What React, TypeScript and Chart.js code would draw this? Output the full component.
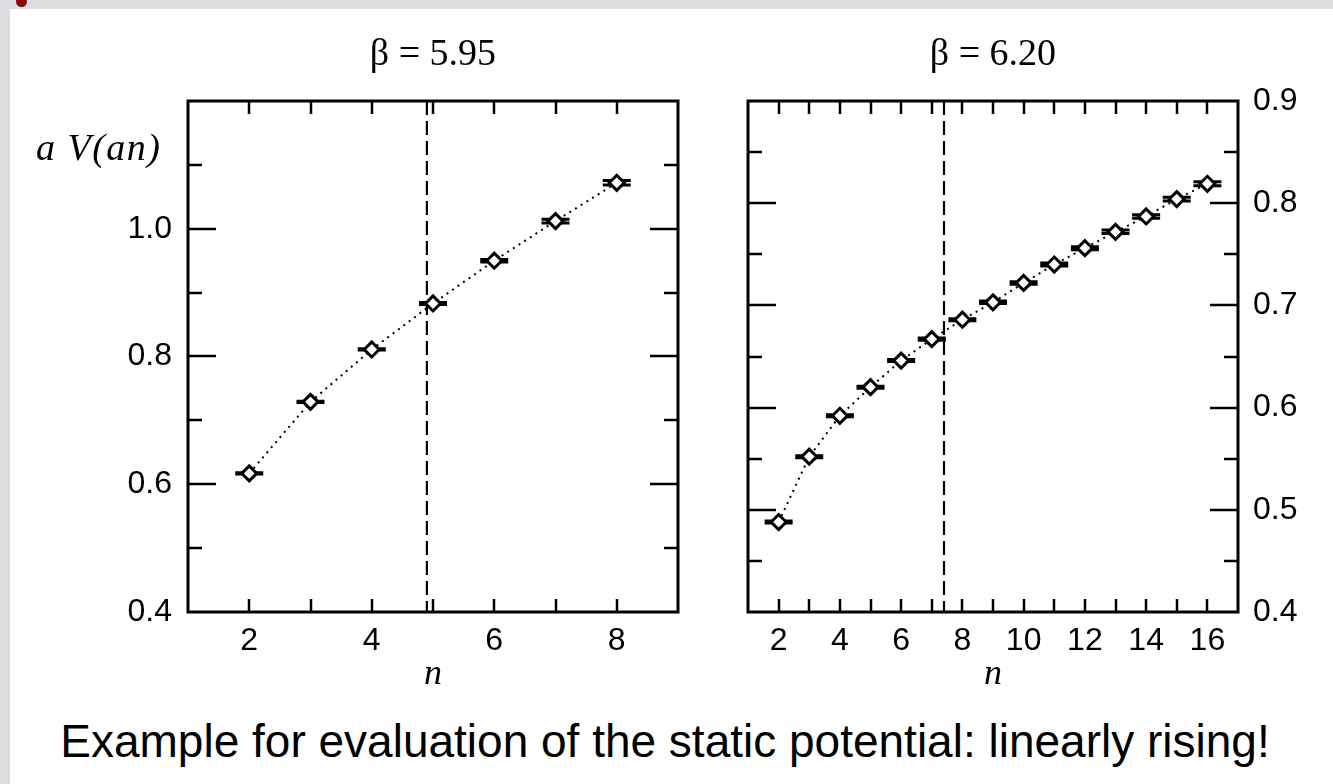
import React, { useEffect, useRef } from "react";
import { Chart, registerables } from "chart.js";
Chart.register(...registerables);

// ---- data ----
const nLeft = [2, 3, 4, 5, 6, 7, 8];
const vLeft = [0.617, 0.729, 0.811, 0.883, 0.95, 1.012, 1.072];
const eLeft = [0.001, 0.001, 0.001, 0.0015, 0.002, 0.003, 0.0035];
const cutLeft = 4.9;

const nRight = [2, 3, 4, 5, 6, 7, 8, 9, 10, 11, 12, 13, 14, 15, 16];
const vRight = [0.488, 0.552, 0.592, 0.62, 0.646, 0.667, 0.686, 0.703, 0.722, 0.74, 0.756, 0.772, 0.787, 0.804, 0.819];
const eRight = [0.001, 0.001, 0.001, 0.001, 0.001, 0.001, 0.001, 0.0012, 0.0012, 0.0014, 0.0015, 0.0017, 0.0018, 0.0019, 0.002];
const cutRight = 7.4;

const titleLeft = "β = 5.95";
const titleRight = "β = 6.20";
const yTitle = "a V(an)";
const xTitle = "n";
const caption = "Example for evaluation of the static potential: linearly rising!";

const SANS = "'Liberation Sans', Arial, Helvetica, sans-serif";
const SERIF = "'Liberation Serif', 'Times New Roman', serif";

function makeFramePlugin(cut: number, errs: number[], isMajor: (v: number) => boolean) {
  return {
    id: "frameTicks",
    beforeDatasetsDraw(chart: any) {
      const { ctx, chartArea: a } = chart;
      const xs = chart.scales.x;
      const ys = chart.scales.y;
      ctx.save();
      ctx.strokeStyle = "#000";
      ctx.lineCap = "butt";
      ctx.lineWidth = 2.5;
      xs.ticks.forEach((t: any) => {
        if (t.value <= xs.min + 1e-9 || t.value >= xs.max - 1e-9) return;
        const px = Math.round(xs.getPixelForValue(t.value));
        ctx.beginPath();
        ctx.moveTo(px, a.bottom);
        ctx.lineTo(px, a.bottom - 13);
        ctx.moveTo(px, a.top);
        ctx.lineTo(px, a.top + 13);
        ctx.stroke();
      });
      ys.ticks.forEach((t: any) => {
        if (t.value <= ys.min + 1e-9 || t.value >= ys.max - 1e-9) return;
        const py = Math.round(ys.getPixelForValue(t.value));
        const len = isMajor(t.value) ? 28 : 14;
        ctx.beginPath();
        ctx.moveTo(a.left, py);
        ctx.lineTo(a.left + len, py);
        ctx.moveTo(a.right, py);
        ctx.lineTo(a.right - len, py);
        ctx.stroke();
      });
      const cx = xs.getPixelForValue(cut);
      ctx.setLineDash([14, 6]);
      ctx.lineWidth = 2.2;
      ctx.beginPath();
      ctx.moveTo(cx, a.top);
      ctx.lineTo(cx, a.bottom);
      ctx.stroke();
      ctx.setLineDash([]);
      ctx.lineWidth = 3;
      const ds = chart.data.datasets[0];
      ds.data.forEach((p: any, i: number) => {
        const px = xs.getPixelForValue(p.x);
        const y1 = ys.getPixelForValue(p.y + errs[i]);
        const y2 = ys.getPixelForValue(p.y - errs[i]);
        ctx.beginPath();
        ctx.moveTo(px - 14, y1);
        ctx.lineTo(px + 14, y1);
        ctx.moveTo(px - 14, y2);
        ctx.lineTo(px + 14, y2);
        ctx.moveTo(px, y1);
        ctx.lineTo(px, y2);
        ctx.stroke();
      });
      ctx.lineWidth = 3;
      ctx.strokeRect(a.left, a.top, a.right - a.left, a.bottom - a.top);
      ctx.restore();
    },
  };
}

function makeConfig(
  ns: number[], vs: number[], es: number[], cut: number,
  xmin: number, xmax: number, ymin: number, ymax: number, ystep: number,
  yPos: "left" | "right", yWidth: number, padding: any,
  isMajor: (v: number) => boolean, isLabeled: (v: number) => boolean
) {
  return {
    type: "line",
    data: {
      datasets: [
        {
          data: ns.map((n, i) => ({ x: n, y: vs[i] })),
          borderColor: "#000",
          borderWidth: 2,
          borderDash: [2, 4.7],
          tension: 0,
          fill: false,
          pointStyle: "rectRot",
          pointRadius: 7.5,
          pointBorderWidth: 3,
          pointBackgroundColor: "#fff",
          pointBorderColor: "#000",
        },
      ],
    },
    options: {
      animation: false,
      responsive: false,
      maintainAspectRatio: false,
      events: [],
      layout: { padding },
      plugins: {
        legend: { display: false },
        tooltip: { enabled: false },
        title: { display: false },
      },
      scales: {
        x: {
          type: "linear",
          position: "bottom",
          min: xmin,
          max: xmax,
          grid: { display: false, drawTicks: false },
          border: { display: false },
          afterFit: (s: any) => { s.height = 88; },
          ticks: {
            stepSize: 1,
            autoSkip: false,
            maxRotation: 0,
            padding: 10,
            color: "#000",
            font: { family: SANS, size: 32, lineHeight: 1.2 },
            callback: (v: any) => (Math.round(Number(v)) % 2 === 0 ? String(Math.round(Number(v))) : ""),
          },
        },
        y: {
          type: "linear",
          position: yPos,
          min: ymin,
          max: ymax,
          grid: { display: false, drawTicks: false },
          border: { display: false },
          afterFit: (s: any) => { s.width = yWidth; },
          ticks: {
            stepSize: ystep,
            autoSkip: false,
            padding: yPos === "left" ? 16 : 15,
            color: "#000",
            font: { family: SANS, size: 32 },
            callback: (v: any) => (isLabeled(Number(v)) ? Number(v).toFixed(1) : ""),
          },
        },
      },
    },
    plugins: [makeFramePlugin(cut, es, isMajor)],
  };
}

function ChartCanvas(props: { config: () => any; left: number; top: number; w: number; h: number }) {
  const ref = useRef<HTMLCanvasElement | null>(null);
  useEffect(() => {
    if (!ref.current) return;
    const chart = new Chart(ref.current, props.config() as any);
    return () => chart.destroy();
  }, []);
  return (
    <div style={{ position: "absolute", left: props.left, top: props.top, width: props.w, height: props.h }}>
      <canvas ref={ref} width={props.w} height={props.h} style={{ display: "block", width: props.w, height: props.h }} />
    </div>
  );
}

function Text(props: { text: string; family: string; size: number; italic?: boolean; baseline: number; cx?: number; left?: number; sans?: boolean; spacing?: number }) {
  const k = props.sans ? 0.8465 : 0.8375;
  const top = props.baseline - props.size * k;
  const style: React.CSSProperties = {
    position: "absolute",
    top,
    fontFamily: props.family,
    fontSize: props.size,
    lineHeight: props.size + "px",
    fontStyle: props.italic ? "italic" : "normal",
    letterSpacing: props.spacing ? props.spacing + "px" : undefined,
    color: "#000",
    whiteSpace: "nowrap",
  };
  if (props.cx !== undefined) {
    style.left = props.cx - 700;
    style.width = 1400;
    style.textAlign = "center";
  } else {
    style.left = props.left;
  }
  return <div style={style}>{props.text}</div>;
}

const isTenth = (v: number) => Math.abs(v * 10 - Math.round(v * 10)) < 1e-6;

export default function App() {
  const leftCfg = () =>
    makeConfig(nLeft, vLeft, eLeft, cutLeft, 1, 9, 0.4, 1.2, 0.1, "left", 188,
      { left: 0, top: 101, right: 22, bottom: 0 },
      (v) => Math.round(v * 10) % 2 === 0,
      (v) => Math.round(v * 10) % 2 === 0 && v < 1.15);
  const rightCfg = () =>
    makeConfig(nRight, vRight, eRight, cutRight, 1, 17, 0.4, 0.9, 0.05, "right", 95,
      { left: 48, top: 101, right: 0, bottom: 0 },
      isTenth,
      isTenth);

  return (
    <div style={{ position: "fixed", left: 0, top: 0, width: 1333, height: 784, background: "#dcdde0", overflow: "hidden" }}>
      <div style={{ position: "absolute", left: 10, top: 9, right: 0, bottom: 0, background: "#fff" }} />
      <div style={{ position: "absolute", left: 15.5, top: -4, width: 11, height: 11, borderRadius: "50%", background: "#8b0a0a" }} />
      <ChartCanvas config={leftCfg} left={0} top={0} w={700} h={700} />
      <ChartCanvas config={rightCfg} left={700} top={0} w={633} h={700} />
      <Text text={titleLeft} family={SERIF} size={38} baseline={65} cx={433} />
      <Text text={titleRight} family={SERIF} size={38} baseline={65} cx={993} />
      <Text text={yTitle} family={SERIF} size={38} italic baseline={160} left={36} spacing={1.5} />
      <Text text={xTitle} family={SERIF} size={36} italic baseline={684} cx={433} />
      <Text text={xTitle} family={SERIF} size={36} italic baseline={684} cx={993} />
      <Text text={caption} family={SANS} size={46} sans baseline={757} cx={665} />
    </div>
  );
}
